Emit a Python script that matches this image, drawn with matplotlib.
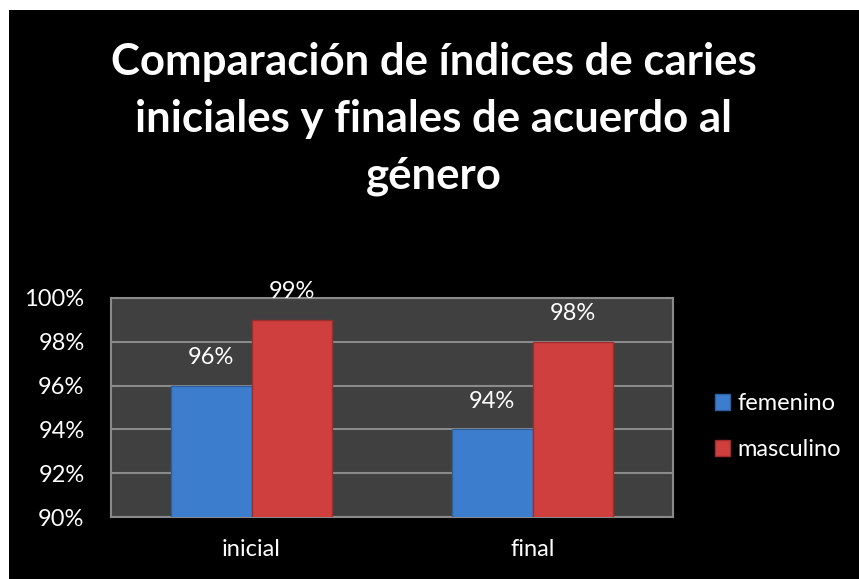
import matplotlib.pyplot as plt
import numpy as np

categories = ["inicial", "final"]
series_names = ["femenino", "masculino"]
femenino = [0.96, 0.94]
masculino = [0.99, 0.98]
yticks = [0.90, 0.92, 0.94, 0.96, 0.98, 1.00]
title_lines = ["Comparación de índices de caries",
               "iniciales y finales de acuerdo al",
               "género"]

plt.rcParams["font.family"] = ["Lato", "DejaVu Sans"]

W, H = 859, 579
fig = plt.figure(figsize=(W / 100, H / 100), dpi=100)
fig.patch.set_facecolor("white")

# black chart area (white margin on the top and left)
bg = fig.add_axes([9 / W, 0, 1 - 9 / W, 1 - 10 / H])
bg.set_facecolor("black")
bg.set_xticks([])
bg.set_yticks([])
for s in bg.spines.values():
    s.set_visible(False)

ax = fig.add_axes([111 / W, 1 - 517 / H, 562 / W, 219 / H])
ax.set_facecolor("#404040")

x = np.arange(len(categories))
w = 0.2865
colors = ["#3d7dce", "#cf3f3e"]
edges = ["#2e5f9e", "#9e2e2d"]
for i, (vals, c, e, name) in enumerate(zip([femenino, masculino], colors, edges, series_names)):
    pos = x + (i - 0.5) * w
    ax.bar(pos, vals, width=w, color=c, edgecolor=e, linewidth=1.0, label=name, zorder=3)
    for p, v in zip(pos, vals):
        ax.text(p, v + 0.008, f"{v * 100:.0f}%", ha="center", va="bottom",
                color="white", fontsize=17, zorder=4)

ax.set_ylim(0.90, 1.00)
ax.set_xlim(-0.5, 1.5)
ax.set_yticks(yticks)
ax.set_yticklabels([f"{t * 100:.0f}%" for t in yticks], color="white", fontsize=17)
ax.set_xticks(x)
ax.set_xticklabels(categories, color="white", fontsize=17)
ax.tick_params(length=0)
ax.tick_params(axis="y", pad=19)
ax.tick_params(axis="x", pad=16)
ax.yaxis.grid(True, color="#8a8a8a", linewidth=1.5, zorder=1)
ax.set_axisbelow(True)
for s in ax.spines.values():
    s.set_color("#8a8a8a")
    s.set_linewidth(1.5)

leg = ax.legend(loc="center left", bbox_to_anchor=(1.075, 0.413), frameon=False,
                fontsize=17, labelcolor="white", handlelength=0.65, handleheight=0.65,
                handletextpad=0.3, labelspacing=1.05, borderpad=0, borderaxespad=0)

# title, one line at a time (baselines)
for line, base in zip(title_lines, [75, 132, 188]):
    fig.text(0.505, 1 - base / H, line, ha="center", va="baseline", color="white",
             fontsize=31.5, fontweight="bold")

fig.savefig("out.png", dpi=100)
